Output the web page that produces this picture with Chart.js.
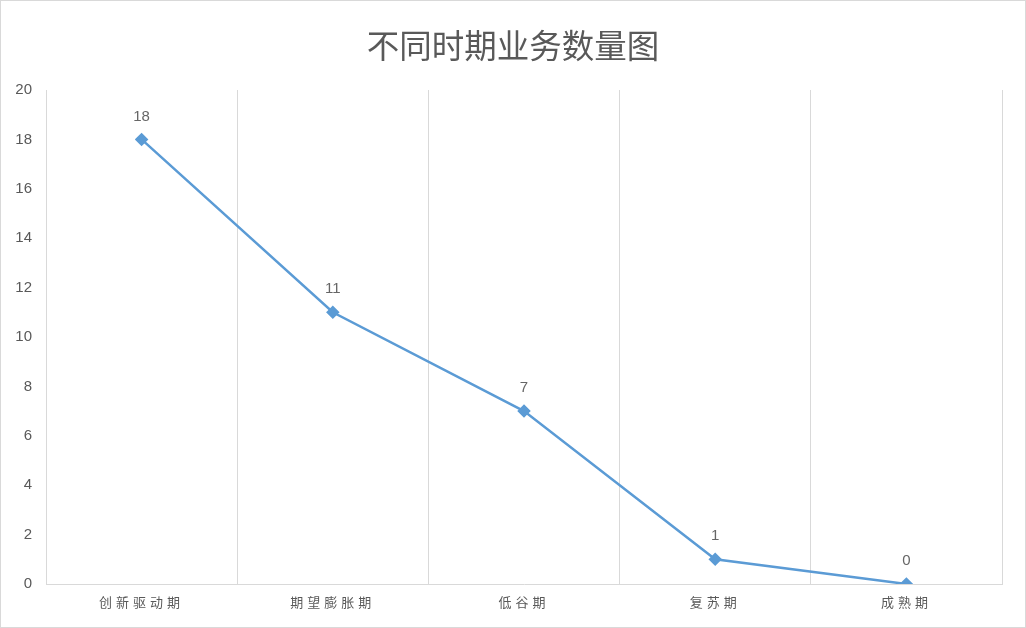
<!DOCTYPE html>
<html>
<head>
<meta charset="utf-8">
<script src="https://cdn.jsdelivr.net/npm/chart.js@4.4.1/dist/chart.umd.min.js"></script>
<style>
html,body{margin:0;padding:0;background:#fff;}
#wrap{width:1026px;height:628px;position:relative;}
</style>
</head>
<body>
<div id="wrap"><canvas id="c" width="1026" height="628"></canvas></div>
<script>
const chartTitle = '不同时期业务数量图';
const categories = ['创新驱动期', '期望膨胀期', '低谷期', '复苏期', '成熟期'];
const businessCounts = [18, 11, 7, 1, 0];
const yTicks = [0, 2, 4, 6, 8, 10, 12, 14, 16, 18, 20];

class SpacedCategory extends Chart.CategoryScale {
  drawLabels(area) {
    const ctx = this.ctx;
    ctx.save();
    ctx.letterSpacing = '4px';
    super.drawLabels(area);
    ctx.restore();
  }
}
SpacedCategory.id = 'spacedCategory';
SpacedCategory.defaults = Chart.CategoryScale.defaults;
Chart.register(SpacedCategory);

const valueLabels = {
  id: 'valueLabels',
  afterDatasetsDraw(chart) {
    const ctx = chart.ctx;
    const meta = chart.getDatasetMeta(0);
    ctx.save();
    ctx.font = '15px "Liberation Sans", Arial, sans-serif';
    ctx.fillStyle = '#666666';
    ctx.textAlign = 'center';
    ctx.textBaseline = 'middle';
    meta.data.forEach((pt, i) => {
      ctx.fillText(String(chart.data.datasets[0].data[i]), pt.x, pt.y - 23);
    });
    ctx.restore();
  }
};

const outerBorder = {
  id: 'outerBorder',
  afterDraw(chart) {
    const ctx = chart.ctx;
    ctx.save();
    ctx.strokeStyle = '#d9d9d9';
    ctx.lineWidth = 1;
    ctx.strokeRect(0.5, 0.5, chart.width - 1, chart.height - 1);
    ctx.restore();
  }
};

new Chart(document.getElementById('c'), {
  type: 'line',
  data: {
    labels: categories,
    datasets: [{
      data: businessCounts,
      borderColor: '#5B9BD5',
      backgroundColor: '#5B9BD5',
      borderWidth: 2.5,
      pointStyle: 'rectRot',
      pointRadius: 5,
      pointBackgroundColor: '#5B9BD5',
      pointBorderColor: '#5B9BD5',
      tension: 0,
      fill: false
    }]
  },
  options: {
    responsive: false,
    animation: false,
    layout: { padding: 0 },
    plugins: {
      legend: { display: false },
      tooltip: { enabled: false },
      title: {
        display: true,
        text: chartTitle,
        color: '#595959',
        font: { family: '"Noto Sans CJK SC", sans-serif', size: 32.5, weight: 'normal', lineHeight: 1.2 },
        padding: { top: 26, bottom: 25 }
      }
    },
    scales: {
      x: {
        type: 'spacedCategory',
        offset: true,
        grid: { display: true, offset: true, color: '#d9d9d9', drawTicks: false, lineWidth: 1 },
        border: { display: true, color: '#d9d9d9' },
        ticks: {
          color: '#595959',
          font: { family: '"Noto Sans CJK SC", sans-serif', size: 13 },
          padding: 10,
          autoSkip: false,
          maxRotation: 0
        },
        afterFit(scale) { scale.height = 44; }
      },
      y: {
        min: 0,
        max: 20,
        afterBuildTicks(scale) { scale.ticks = yTicks.map(v => ({ value: v })); },
        grid: { display: false, drawTicks: false },
        border: { display: true, color: '#d9d9d9' },
        ticks: {
          color: '#595959',
          font: { family: '"Liberation Sans", Arial, sans-serif', size: 15 },
          padding: 14
        },
        afterFit(scale) { scale.width = 46; }
      },
      yRightSpacer: {
        position: 'right',
        display: true,
        min: 0,
        max: 20,
        grid: { display: false, drawTicks: false },
        border: { display: false },
        ticks: { display: false },
        afterFit(scale) { scale.width = 24; }
      }
    }
  },
  plugins: [valueLabels, outerBorder]
});
</script>
</body>
</html>
